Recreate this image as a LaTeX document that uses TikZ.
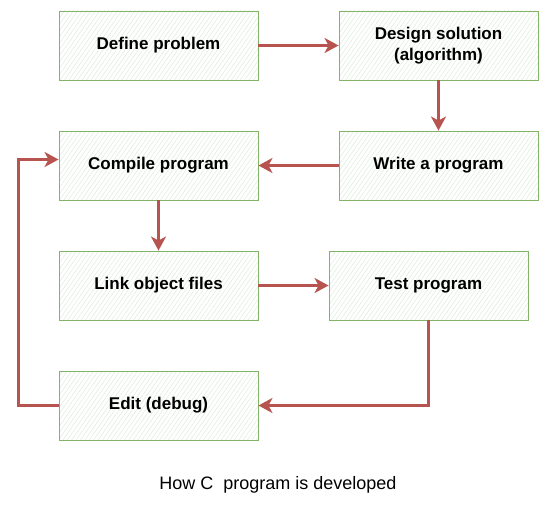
\documentclass[tikz,border=0pt]{standalone}
\usepackage{fontspec}
\setmainfont{Liberation Sans}
\usetikzlibrary{arrows.meta,patterns.meta}
\definecolor{boxline}{HTML}{82B366}
\definecolor{boxfill}{HTML}{DDEDDC}
\definecolor{arrowred}{HTML}{B85450}
\tikzset{
  stepbox/.style={draw=boxline, line width=0.9pt,
    pattern={Lines[angle=55,distance=3.6pt,line width=0.5pt]}, pattern color=boxfill,
    minimum width=199pt, minimum height=69pt, inner sep=0pt, align=center,
    font=\fontsize{17}{21}\selectfont\bfseries},
  flow/.style={draw=arrowred, line width=3pt,
    -{Stealth[length=14pt,width=15pt,inset=4pt]}}
}
\begin{document}
\begin{tikzpicture}[x=1pt,y=-1pt]
\useasboundingbox (0,0) rectangle (549,511);
\fill[white] (0,0) rectangle (549,511);
\node[stepbox] (define) at (158.5,45.5) {Define problem};
\node[stepbox] (design) at (438.5,45.5) {Design solution\\(algorithm)};
\node[stepbox] (compile) at (158.5,165.5) {Compile program};
\node[stepbox] (write) at (438.5,165.5) {Write a program};
\node[stepbox] (link) at (158.5,285.5) {Link object files};
\node[stepbox] (test) at (428.5,285.5) {Test program};
\node[stepbox] (edit) at (158.5,405.5) {Edit (debug)};
\node[font=\fontsize{18}{22}\selectfont] (caption) at (278,485) {How C\ \ program is developed};
\draw[flow] (define) -- (design);
\draw[flow] (design) -- (write);
\draw[flow] (write) -- (compile);
\draw[flow] (compile) -- (link);
\draw[flow] (link) -- (test.west |- link.east);
\draw[flow] (test.south) |- (edit.east);
\coordinate (loopleft) at (18,405.5);
\draw[flow] (edit.west) -- (loopleft) |- ([yshift=6pt]compile.west);
\end{tikzpicture}
\end{document}
